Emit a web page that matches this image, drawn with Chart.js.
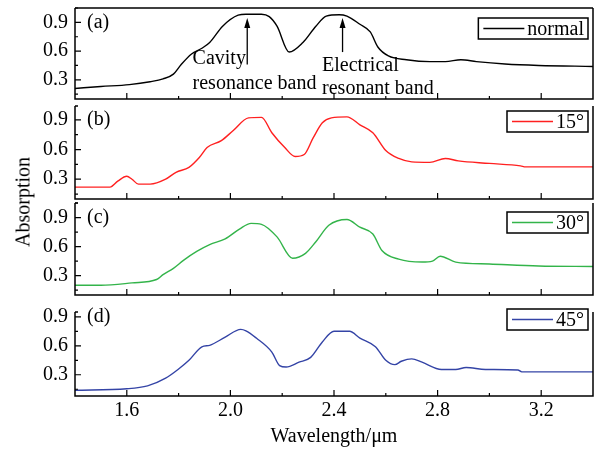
<!DOCTYPE html>
<html>
<head>
<meta charset="utf-8">
<script src="https://cdn.jsdelivr.net/npm/chart.js@4"></script>
<style>
  html, body { margin: 0; padding: 0; background: #fff; }
  #wrap { position: relative; width: 597px; height: 449px; }
  #wrap canvas { position: absolute; left: 0; }
  #ylab {
    position: absolute; left: 23px; top: 202px;
    font: 20px "Liberation Serif", serif; color: #000;
    transform: translate(-50%, -50%) rotate(-90deg);
    white-space: nowrap;
  }
</style>
</head>
<body>
<div id="wrap">
  <canvas id="pa" width="597" height="100" style="top:0"></canvas>
  <canvas id="pb" width="597" height="100" style="top:100px"></canvas>
  <canvas id="pc" width="597" height="100" style="top:200px"></canvas>
  <canvas id="pd" width="597" height="149" style="top:300px"></canvas>
  <div id="ylab">Absorption</div>
</div>
<script>
// valores
const xTicks = [1.6, 2.0, 2.4, 2.8, 3.2];
const xMinor = [1.8, 2.2, 2.6, 3.0];
const yTicks = [0.3, 0.6, 0.9];
const yMinor = [0.15, 0.45, 0.75, 1.05];

const wlNormal = [1.40, 1.50, 1.61, 1.69, 1.74, 1.78, 1.81, 1.85, 1.89, 1.92, 1.97, 2.03, 2.06, 2.12, 2.15, 2.18, 2.227, 2.28, 2.33, 2.37, 2.42, 2.45, 2.50, 2.54, 2.57, 2.61, 2.68, 2.77, 2.83, 2.89, 2.95, 3.06, 3.19, 3.40];
const absNormal = [0.21, 0.23, 0.25, 0.28, 0.31, 0.36, 0.46, 0.57, 0.63, 0.69, 0.86, 0.975, 0.985, 0.985, 0.96, 0.86, 0.59, 0.69, 0.86, 0.965, 0.98, 0.965, 0.88, 0.80, 0.64, 0.55, 0.51, 0.49, 0.49, 0.51, 0.49, 0.465, 0.45, 0.44];

const wl15 = [1.40, 1.535, 1.565, 1.60, 1.62, 1.645, 1.69, 1.75, 1.79, 1.84, 1.88, 1.91, 1.965, 2.01, 2.07, 2.12, 2.16, 2.21, 2.25, 2.285, 2.32, 2.355, 2.39, 2.45, 2.50, 2.55, 2.60, 2.65, 2.70, 2.77, 2.83, 2.88, 3.00, 3.12, 3.14, 3.40];
const abs15 = [0.22, 0.22, 0.28, 0.33, 0.30, 0.25, 0.25, 0.30, 0.37, 0.42, 0.52, 0.62, 0.69, 0.79, 0.92, 0.925, 0.77, 0.62, 0.53, 0.55, 0.72, 0.87, 0.92, 0.93, 0.85, 0.77, 0.59, 0.51, 0.475, 0.47, 0.51, 0.485, 0.46, 0.435, 0.425, 0.425];

const wl30 = [1.40, 1.50, 1.62, 1.715, 1.74, 1.78, 1.82, 1.87, 1.92, 1.98, 2.035, 2.08, 2.12, 2.18, 2.24, 2.29, 2.33, 2.38, 2.45, 2.50, 2.55, 2.585, 2.65, 2.74, 2.78, 2.81, 2.87, 3.00, 3.19, 3.40];
const abs30 = [0.20, 0.20, 0.225, 0.26, 0.31, 0.375, 0.46, 0.55, 0.62, 0.68, 0.78, 0.84, 0.83, 0.70, 0.48, 0.53, 0.65, 0.82, 0.88, 0.80, 0.73, 0.56, 0.47, 0.44, 0.45, 0.50, 0.44, 0.42, 0.40, 0.395];

const wl45 = [1.40, 1.60, 1.68, 1.75, 1.80, 1.84, 1.89, 1.92, 1.98, 2.04, 2.06, 2.10, 2.16, 2.19, 2.215, 2.265, 2.31, 2.355, 2.40, 2.46, 2.50, 2.56, 2.60, 2.635, 2.66, 2.70, 2.74, 2.815, 2.87, 2.91, 2.985, 3.11, 3.125, 3.40];
const abs45 = [0.14, 0.155, 0.185, 0.265, 0.36, 0.45, 0.59, 0.605, 0.69, 0.77, 0.755, 0.68, 0.535, 0.395, 0.38, 0.43, 0.48, 0.64, 0.75, 0.75, 0.68, 0.59, 0.45, 0.405, 0.44, 0.465, 0.43, 0.355, 0.355, 0.375, 0.355, 0.35, 0.33, 0.33];

const FONT = '"Liberation Serif", "Times New Roman", serif';

// desenha moldura, ticks internos, rótulo (a)..(d), legenda e setas
const painelPlugin = {
  id: 'painel',
  afterDatasetsDraw(chart, args, o) {
    const { ctx, chartArea: a, scales: { x, y } } = chart;
    ctx.save();
    ctx.strokeStyle = '#000';
    ctx.lineWidth = 1.5;
    ctx.beginPath();
    if (o.top) { ctx.moveTo(a.left, a.top); ctx.lineTo(a.right, a.top); }
    ctx.moveTo(a.left, a.top); ctx.lineTo(a.left, a.bottom);
    ctx.lineTo(a.right, a.bottom); ctx.lineTo(a.right, a.top);
    ctx.moveTo(a.left, a.top); ctx.lineTo(a.left + 3, a.top);
    ctx.stroke();

    ctx.lineWidth = 1.2;
    ctx.beginPath();
    xTicks.forEach(v => { const px = x.getPixelForValue(v); ctx.moveTo(px, a.bottom); ctx.lineTo(px, a.bottom - 6); });
    xMinor.forEach(v => { const px = x.getPixelForValue(v); ctx.moveTo(px, a.bottom); ctx.lineTo(px, a.bottom - 3); });
    yTicks.forEach(v => { const py = y.getPixelForValue(v); ctx.moveTo(a.left, py); ctx.lineTo(a.left + 6, py); });
    yMinor.forEach(v => {
      if (v > y.max) return;
      const py = y.getPixelForValue(v); ctx.moveTo(a.left, py); ctx.lineTo(a.left + 3, py);
    });
    ctx.stroke();

    ctx.fillStyle = '#000';
    ctx.font = '20px ' + FONT;
    ctx.textBaseline = 'middle';
    ctx.textAlign = 'left';
    ctx.fillText(o.tag, a.left + 12, y.getPixelForValue(0.9));

    // legenda
    const tw = ctx.measureText(o.label).width;
    const bw = 6 + 40 + 3 + tw + 4, bh = 21;
    const bx = a.right - 5 - bw, by = o.legTop;
    ctx.fillStyle = '#fff';
    ctx.fillRect(bx, by, bw, bh);
    ctx.lineWidth = 1.5;
    ctx.strokeRect(bx, by, bw, bh);
    ctx.strokeStyle = o.color;
    ctx.lineWidth = 1.4;
    ctx.beginPath();
    ctx.moveTo(bx + 5, by + bh / 2); ctx.lineTo(bx + 46, by + bh / 2);
    ctx.stroke();
    ctx.fillStyle = '#000';
    ctx.fillText(o.label, bx + 49, by + bh / 2 + 1);

    (o.notes || []).forEach(n => {
      n.lines.forEach((t, i) => ctx.fillText(t, x.getPixelForValue(n.tx), y.getPixelForValue(n.ty[i])));
      const ax = x.getPixelForValue(n.ax);
      const y0 = y.getPixelForValue(n.from), y1 = y.getPixelForValue(n.to);
      ctx.strokeStyle = '#000';
      ctx.lineWidth = 1.3;
      ctx.beginPath(); ctx.moveTo(ax, y0); ctx.lineTo(ax, y1 + 6); ctx.stroke();
      ctx.beginPath();
      ctx.moveTo(ax, y1); ctx.lineTo(ax - 3, y1 + 10); ctx.lineTo(ax + 3, y1 + 10); ctx.closePath();
      ctx.fill();
    });
    ctx.restore();
  }
};

function criarPainel(id, wl, abs, cor, extra) {
  const ultimo = !!extra.last;
  new Chart(document.getElementById(id), {
    type: 'line',
    data: {
      datasets: [{
        data: wl.map((v, i) => ({ x: v, y: abs[i] })),
        borderColor: cor,
        borderWidth: 1.4,
        pointRadius: 0,
        cubicInterpolationMode: 'monotone',
        fill: false
      }]
    },
    options: {
      responsive: false,
      animation: false,
      layout: { padding: { top: extra.padTop, bottom: extra.padBottom, left: 0, right: 4 } },
      plugins: {
        legend: { display: false },
        tooltip: { enabled: false },
        painel: { tag: extra.tag, label: extra.label, color: cor, legTop: extra.legTop, top: extra.top, notes: extra.notes }
      },
      scales: {
        x: {
          type: 'linear', min: 1.4, max: 3.4,
          display: ultimo,
          grid: { display: false, drawTicks: false },
          border: { display: false },
          afterBuildTicks: s => { s.ticks = xTicks.map(v => ({ value: v })); },
          afterFit: s => { s.height = ultimo ? 53 : 0; s.paddingLeft = 0; s.paddingRight = 0; },
          ticks: { color: '#000', font: { family: FONT, size: 20 }, padding: 3, autoSkip: false, maxRotation: 0, callback: v => Number(v).toFixed(1) },
          title: { display: true, text: 'Wavelength/\u03bcm', color: '#000', font: { family: FONT, size: 20 }, padding: { top: 0, bottom: 0 } }
        },
        y: {
          min: extra.min, max: extra.max,
          grid: { display: false, drawTicks: false },
          border: { display: false },
          afterBuildTicks: s => { s.ticks = yTicks.map(v => ({ value: v })); },
          afterFit: s => { s.width = 75; s.paddingTop = 0; s.paddingBottom = 0; },
          ticks: { color: '#000', font: { family: FONT, size: 20 }, padding: 7, autoSkip: false, callback: v => Number(v).toFixed(1) }
        }
      }
    },
    plugins: [painelPlugin]
  });
}

criarPainel('pa', wlNormal, absNormal, '#000000', {
  tag: '(a)', label: 'normal', legTop: 18, top: true, min: 0.1, max: 1.05, padTop: 8, padBottom: 1,
  notes: [
    { lines: ['Cavity', 'resonance band'], tx: 1.854, ty: [0.52, 0.26], ax: 2.065, from: 0.46, to: 0.945 },
    { lines: ['Electrical', 'resonant band'], tx: 2.354, ty: [0.445, 0.21], ax: 2.433, from: 0.59, to: 0.945 }
  ]
});
criarPainel('pb', wl15, abs15, '#ff2020', { tag: '(b)', label: '15\u00b0', legTop: 11, min: 0.1, max: 1.04, padTop: 6, padBottom: 1 });
criarPainel('pc', wl30, abs30, '#33b44a', { tag: '(c)', label: '30\u00b0', legTop: 12, min: 0.1, max: 1.05, padTop: 3, padBottom: 5 });
criarPainel('pd', wl45, abs45, '#3444a6', { tag: '(d)', label: '45\u00b0', legTop: 9, last: true, min: 0.08, max: 0.95, padTop: 12, padBottom: 0 });
</script>
</body>
</html>
